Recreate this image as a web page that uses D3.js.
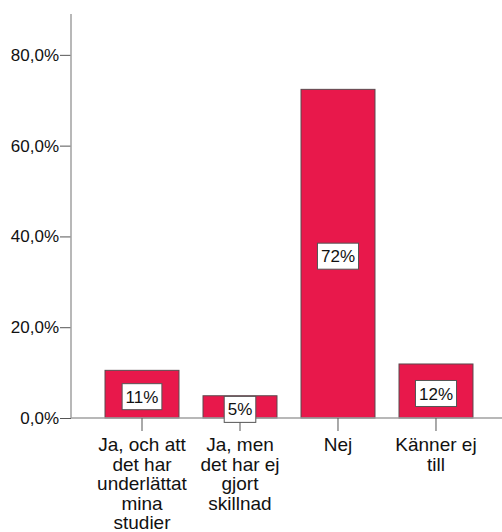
<!DOCTYPE html>
<html>
<head>
<meta charset="utf-8">
<script src="https://cdn.jsdelivr.net/npm/d3@7"></script>
<style>
  body { margin: 0; background: #fff; }
  svg { display: block; font-family: "Liberation Sans", Arial, sans-serif; }
</style>
</head>
<body>
<svg id="chart" width="502" height="532"></svg>
<script>
const categories = [
  ["Ja, och att", "det har", "underlättat", "mina", "studier"],
  ["Ja, men", "det har ej", "gjort", "skillnad"],
  ["Nej"],
  ["Känner ej", "till"]
];
const values = [10.5, 4.9, 72.4, 11.9];
const valueLabels = ["11%", "5%", "72%", "12%"];
const yTicks = [0, 20, 40, 60, 80];

const svg = d3.select("#chart");
const baseY = 418;
const topY = 14;
const axisX = 71;

const y = d3.scaleLinear().domain([0, 89]).range([baseY, topY]);
const x = d3.scaleBand()
  .domain(d3.range(values.length))
  .range([81, 497])
  .paddingInner(0.245)
  .paddingOuter(0.245);

const fmt = (d) => d3.format(".1f")(d).replace(".", ",") + "%";

// y axis
const yAxis = svg.append("g")
  .attr("transform", `translate(${axisX},0)`)
  .call(d3.axisLeft(y).tickValues(yTicks).tickFormat(fmt).tickSize(11).tickPadding(1));
yAxis.select(".domain").remove();
yAxis.selectAll(".tick line").attr("stroke", "#555");
yAxis.selectAll(".tick text").attr("font-size", 17).attr("fill", "#111").attr("font-family", null);

svg.append("line")
  .attr("x1", axisX).attr("x2", axisX)
  .attr("y1", topY).attr("y2", baseY)
  .attr("stroke", "#a0a0a0").attr("stroke-width", 1.5);

// bars
svg.selectAll(".bar")
  .data(values)
  .enter()
  .append("rect")
  .attr("class", "bar")
  .attr("x", (d, i) => x(i))
  .attr("y", (d) => y(d))
  .attr("width", x.bandwidth())
  .attr("height", (d) => baseY - y(d))
  .attr("fill", "#e8184b")
  .attr("stroke", "#5a4a4e")
  .attr("stroke-width", 1);

// baseline
svg.append("line")
  .attr("x1", axisX).attr("x2", 502)
  .attr("y1", baseY).attr("y2", baseY)
  .attr("stroke", "#a0a0a0").attr("stroke-width", 1.5);

// x ticks
svg.selectAll(".xtick")
  .data(values)
  .enter()
  .append("line")
  .attr("x1", (d, i) => x(i) + x.bandwidth() / 2)
  .attr("x2", (d, i) => x(i) + x.bandwidth() / 2)
  .attr("y1", baseY)
  .attr("y2", baseY + 13)
  .attr("stroke", "#555");

// value labels
values.forEach((v, i) => {
  const cx = x(i) + x.bandwidth() / 2;
  const cy = (y(v) + baseY) / 2 + 2.5;
  const g = svg.append("g");
  const t = g.append("text")
    .attr("x", cx)
    .attr("y", cy)
    .attr("text-anchor", "middle")
    .attr("dy", "0.36em")
    .attr("font-size", 17)
    .attr("fill", "#111")
    .text(valueLabels[i]);
  const w = t.node().getComputedTextLength() + 7;
  g.insert("rect", "text")
    .attr("x", cx - w / 2)
    .attr("y", cy - 13)
    .attr("width", w)
    .attr("height", 26)
    .attr("fill", "#fff")
    .attr("stroke", "#555");
});

// category labels
categories.forEach((lines, i) => {
  const cx = x(i) + x.bandwidth() / 2;
  const t = svg.append("text")
    .attr("x", cx)
    .attr("y", 451)
    .attr("text-anchor", "middle")
    .attr("font-size", 19)
    .attr("fill", "#111");
  lines.forEach((line, j) => {
    t.append("tspan").attr("x", cx).attr("y", 451 + j * 19.5).text(line);
  });
});
</script>
</body>
</html>
